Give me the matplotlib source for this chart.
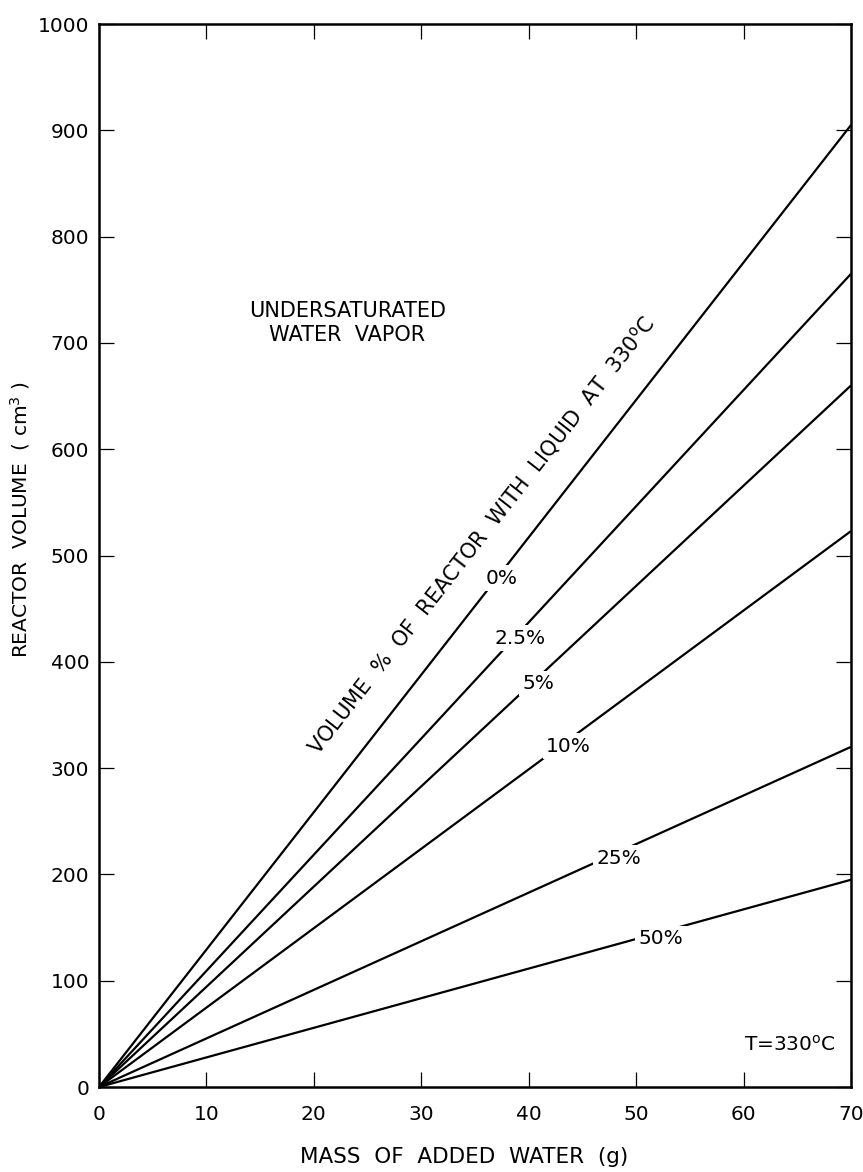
import numpy as np
import matplotlib.pyplot as plt

# Reactor volume needed for a given mass of water at 330 C
liquid_pct = ['0%', '2.5%', '5%', '10%', '25%', '50%']
mass_g = [0, 70]
volume_at_70g = [905, 765, 660, 523, 320, 195]
label_mass = [37.5, 39.2, 40.9, 43.7, 48.4, 52.3]

plt.rcParams['font.family'] = ['DejaVu Sans']
plt.rcParams['mathtext.default'] = 'regular'

fig = plt.figure(figsize=(8.63, 11.72), dpi=100)
ax = fig.add_axes([0.1147, 0.0725, 0.8714, 0.907])

for pct, v_end, xm in zip(liquid_pct, volume_at_70g, label_mass):
    ax.plot(mass_g, [0, v_end], color='black', lw=1.6, solid_capstyle='butt')
    y_on_line = v_end * xm / mass_g[1]
    ax.text(xm, y_on_line - 6, pct, fontsize=14.5, ha='center', va='center',
            bbox=dict(facecolor='white', edgecolor='none', pad=2.5), zorder=3)

# slanted caption along the 0% line
ax.text(35.6, 519, 'VOLUME  %  OF  REACTOR  WITH  LIQUID  AT  330$^{o}$C',
        fontsize=15, rotation=52, rotation_mode='anchor',
        ha='center', va='center')

ax.text(23.1, 719, 'UNDERSATURATED\nWATER  VAPOR', fontsize=15,
        ha='center', va='center', linespacing=1.25)
ax.text(64.3, 40, 'T=330$^{o}$C', fontsize=14.5, ha='center', va='center')

ax.set_xlim(0, 70)
ax.set_ylim(0, 1000)
ax.set_xticks(np.arange(0, 71, 10))
ax.set_yticks(np.arange(0, 1001, 100))
ax.tick_params(direction='in', length=11, width=0.9, labelsize=14.5,
               top=True, right=True)
ax.tick_params(axis='x', pad=13)
ax.tick_params(axis='y', pad=7)
for sp in ax.spines.values():
    sp.set_linewidth(1.8)

ax.set_xlabel('MASS  OF  ADDED  WATER  (g)', fontsize=15.5)
ax.set_ylabel('REACTOR  VOLUME  ( cm$^3$ )', fontsize=14.5)
ax.xaxis.set_label_coords(0.485, -0.056)
ax.yaxis.set_label_coords(-0.089, 0.534)

fig.savefig('out.png', dpi=100)
